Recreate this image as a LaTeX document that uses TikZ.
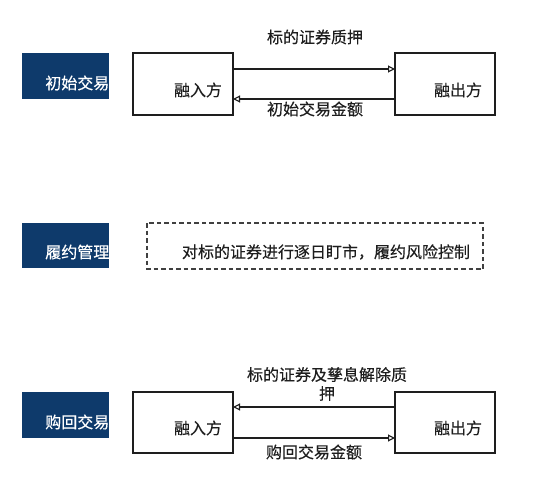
\documentclass[tikz,border=0pt]{standalone}
\usepackage{fontspec}
\setmainfont{Noto Sans CJK SC}[UprightFeatures={FakeBold=0.35}]
\usetikzlibrary{arrows.meta}
\definecolor{navy}{HTML}{0E3A6B}
\definecolor{ink}{HTML}{1E1E1E}
\tikzset{
  stagebox/.style={fill=navy, draw=none},
  stagetext/.style={text=white, font=\fontsize{16}{19}\selectfont, inner sep=0pt, anchor=east},
  partybox/.style={draw=ink, line width=1.1pt},
  partytext/.style={text=ink, font=\fontsize{16}{19}\selectfont, inner sep=0pt},
  flow/.style={draw=ink, line width=1.1pt, -{Triangle[open, length=7pt, width=7pt]}},
  flowtext/.style={text=ink, font=\fontsize{16}{19}\selectfont, inner sep=0pt, align=center}
}
\begin{document}
\begin{tikzpicture}[x=1pt, y=-1pt]
\useasboundingbox (0,0) rectangle (557,500);
% ---- row 1
\fill[stagebox] (22,53) rectangle (109,99);
\node[stagetext] (s1) at (109.5,83) {初始交易};
\draw[partybox] (133,53) rectangle (233,115);
\draw[partybox] (395,53) rectangle (495,115);
\node[partytext] (a1) at (198,90) {融入方};
\node[partytext] (b1) at (458,90) {融出方};
\coordinate (a1t) at (233,69);
\coordinate (b1t) at (395,69);
\coordinate (a1b) at (233,99);
\coordinate (b1b) at (395,99);
\draw[flow] (a1t) -- (b1t);
\draw[flow] (b1b) -- (a1b);
\node[flowtext] (l1a) at (315,37) {标的证券质押};
\node[flowtext] (l1b) at (315,109) {初始交易金额};
% ---- row 2
\fill[stagebox] (22,223) rectangle (109,268);
\node[stagetext] (s2) at (109.5,252) {履约管理};
\draw[draw=ink!85, line width=1.1pt, dash pattern=on 4.5pt off 3pt] (147,223) rectangle (483,269);
\node[flowtext] (m2) at (326,252) {对标的证券进行逐日盯市，履约风险控制};
% ---- row 3
\fill[stagebox] (22,392) rectangle (109,438);
\node[stagetext] (s3) at (109.5,422) {购回交易};
\draw[partybox] (133,392) rectangle (233,453);
\draw[partybox] (395,392) rectangle (495,453);
\node[partytext] (a3) at (198,428) {融入方};
\node[partytext] (b3) at (458,428) {融出方};
\coordinate (a3t) at (233,407);
\coordinate (b3t) at (395,407);
\coordinate (a3b) at (233,438);
\coordinate (b3b) at (395,438);
\draw[flow] (b3t) -- (a3t);
\draw[flow] (a3b) -- (b3b);
\node[flowtext] (l3a) at (327,384) {标的证券及孳息解除质\\押};
\node[flowtext] (l3b) at (314,452) {购回交易金额};
\end{tikzpicture}
\end{document}
